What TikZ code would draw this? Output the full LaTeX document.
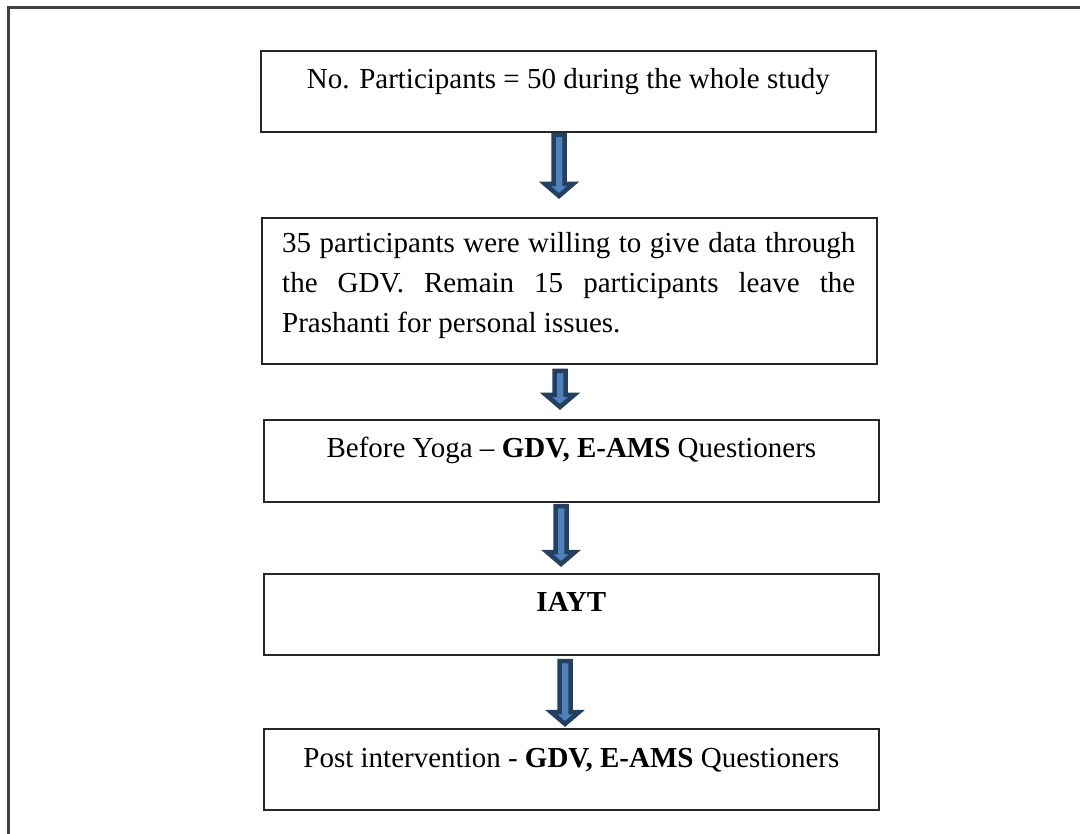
\documentclass[tikz,border=0pt]{standalone}
\usepackage{fontspec}
\setmainfont{Liberation Serif}
\usetikzlibrary{calc}
\definecolor{arrdark}{HTML}{244061}
\definecolor{arrlight}{HTML}{4F81BD}
\definecolor{framegray}{HTML}{404040}
\tikzset{
  flowbox/.style={draw=black!85, line width=1.8pt, inner sep=0pt, minimum width=615pt, anchor=north west},
  boxtext/.style={inner sep=0pt, anchor=base, font=\fontsize{29}{40}\selectfont},
  blockarrow/.style={draw=arrdark, fill=arrlight, line width=4.5pt, line join=miter},
}
\newcommand\blockarr[2]{%
  \draw[blockarrow] let \p1=(#1), \p2=(#2) in
    (\x1-5.5pt,\y1) -- (\x1-5.5pt,\y2+12pt) -- (\x1-14pt,\y2+12pt) -- (\x1,\y2)
    -- (\x1+14pt,\y2+12pt) -- (\x1+5.5pt,\y2+12pt) -- (\x1+5.5pt,\y1) -- cycle;}
\begin{document}
\begin{tikzpicture}
\useasboundingbox (0,0) rectangle (1080pt,-834pt);
% outer frame
\draw[framegray, line width=2.2pt] (8.5pt,-834pt) -- (8.5pt,-7.5pt) -- (1080pt,-7.5pt);
% boxes
\node[flowbox, minimum height=81pt] (b1) at (260pt,-50pt) {};
\node[flowbox, minimum height=146pt] (b2) at (261pt,-217pt) {};
\node[flowbox, minimum height=82pt] (b3) at (263pt,-419pt) {};
\node[flowbox, minimum height=81pt] (b4) at (263pt,-573pt) {};
\node[flowbox, minimum height=81pt] (b5) at (263pt,-728pt) {};
% texts
\node[boxtext] (t1) at ($(b1.north)+(0,-39pt)$) {No. Participants = 50 during the whole study};
\node[boxtext, anchor=base west, align=left] (t2) at ($(b2.north west)+(21pt,-116pt)$)
  {\makebox[573pt][s]{35 participants were willing to give data through}\\
   \makebox[573pt][s]{the GDV. Remain 15 participants leave the}\\
   Prashanti for personal issues.};
\node[boxtext] (t3) at ($(b3.north)+(0,-38.5pt)$) {Before Yoga – \textbf{GDV, E-AMS} Questioners};
\node[boxtext] (t4) at ($(b4.north)+(0,-38.5pt)$) {\textbf{IAYT}};
\node[boxtext] (t5) at ($(b5.north)+(0,-39pt)$) {Post intervention - \textbf{GDV, E-AMS} Questioners};
% arrows
\coordinate (a1s) at (559pt,-135pt); \coordinate (a1e) at (559pt,-196pt);
\coordinate (a2s) at (560pt,-371pt); \coordinate (a2e) at (560pt,-407pt);
\coordinate (a3s) at (561pt,-506pt); \coordinate (a3e) at (561pt,-564pt);
\coordinate (a4s) at (565pt,-661pt); \coordinate (a4e) at (565pt,-724pt);
\blockarr{a1s}{a1e}
\blockarr{a2s}{a2e}
\blockarr{a3s}{a3e}
\blockarr{a4s}{a4e}
\end{tikzpicture}
\end{document}
